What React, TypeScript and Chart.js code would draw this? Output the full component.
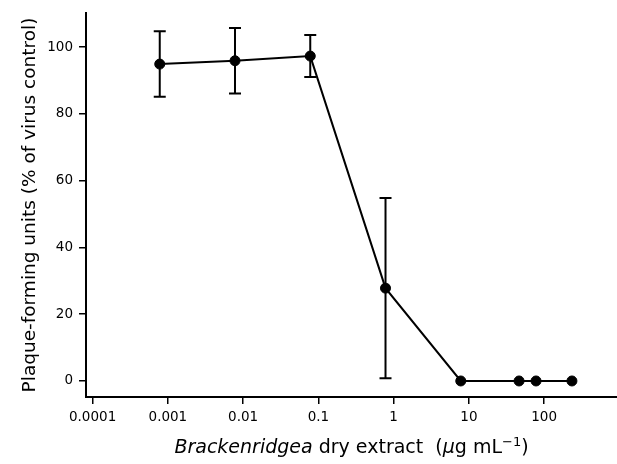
import React, { useEffect, useRef } from "react";
import { Chart, registerables } from "chart.js";

Chart.register(...registerables);

// ---- data ----
const concentrations = [0.00078, 0.0078, 0.078, 0.78, 7.8, 46.4, 78, 234];
const plaqueUnits = [94.9, 95.9, 97.3, 27.8, 0, 0, 0, 0];
const errorSD = [9.8, 9.8, 6.3, 27, 0, 0, 0, 0];
const xTickValues = [0.0001, 0.001, 0.01, 0.1, 1, 10, 100];
const xTickLabels = ["0.0001", "0.001", "0.01", "0.1", "1", "10", "100"];
const yTickValues = [0, 20, 40, 60, 80, 100];
const yTitle = "Plaque-forming units (% of virus control)";
const xTitleParts = [
  { text: "Brackenridgea", style: "italic" },
  { text: " dry extract  (", style: "normal" },
  { text: "μ", style: "italic" },
  { text: "g mL", style: "normal" },
  { text: "−1", style: "sup" },
  { text: ")", style: "normal" },
];

const FONT = "'DejaVu Sans', 'Open Sans', sans-serif";

const errorBarPlugin = {
  id: "errorBars",
  beforeDatasetsDraw(chart: any) {
    const { ctx, scales } = chart;
    const x = scales.x;
    const y = scales.y;
    ctx.save();
    ctx.strokeStyle = "#000";
    ctx.lineWidth = 2;
    concentrations.forEach((c, i) => {
      const e = errorSD[i];
      if (!e) return;
      const px = x.getPixelForValue(c);
      const top = y.getPixelForValue(plaqueUnits[i] + e);
      const bot = y.getPixelForValue(plaqueUnits[i] - e);
      ctx.beginPath();
      ctx.moveTo(px, top);
      ctx.lineTo(px, bot);
      ctx.moveTo(px - 6, top);
      ctx.lineTo(px + 6, top);
      ctx.moveTo(px - 6, bot);
      ctx.lineTo(px + 6, bot);
      ctx.stroke();
    });
    ctx.restore();
  },
};

const xTitlePlugin = {
  id: "xTitle",
  afterDraw(chart: any) {
    const { ctx, chartArea } = chart;
    const size = 19;
    const fontFor = (s: string) =>
      s === "italic"
        ? `italic ${size}px ${FONT}`
        : s === "sup"
        ? `${Math.round(size * 0.66)}px ${FONT}`
        : `${size}px ${FONT}`;
    ctx.save();
    ctx.fillStyle = "#000";
    ctx.textBaseline = "alphabetic";
    ctx.textAlign = "left";
    let total = 0;
    const widths = xTitleParts.map((p) => {
      ctx.font = fontFor(p.style);
      const w = ctx.measureText(p.text).width;
      total += w;
      return w;
    });
    let cx = (chartArea.left + chartArea.right) / 2 - total / 2;
    const baseY = 453;
    xTitleParts.forEach((p, i) => {
      ctx.font = fontFor(p.style);
      ctx.fillText(p.text, cx, p.style === "sup" ? baseY - 7 : baseY);
      cx += widths[i];
    });
    ctx.restore();
  },
};

export default function App() {
  const canvasRef = useRef<HTMLCanvasElement | null>(null);

  useEffect(() => {
    if (!canvasRef.current) return;
    const chart = new Chart(canvasRef.current, {
      type: "scatter",
      data: {
        datasets: [
          {
            data: concentrations.map((c, i) => ({ x: c, y: plaqueUnits[i] })),
            showLine: true,
            borderColor: "#000",
            borderWidth: 2,
            backgroundColor: "#000",
            pointRadius: 5,
            pointBorderWidth: 1,
            pointBackgroundColor: "#000",
            pointBorderColor: "#000",
            tension: 0,
            clip: false,
          },
        ],
      },
      options: {
        responsive: false,
        animation: false,
        layout: { autoPadding: false, padding: { top: 13, right: 0, left: 0, bottom: 0 } },
        plugins: {
          legend: { display: false },
          tooltip: { enabled: false },
        },
        scales: {
          x: {
            type: "logarithmic",
            min: 8.17e-5,
            max: 929,
            afterBuildTicks: (s: any) => {
              s.ticks = xTickValues.map((v) => ({ value: v }));
            },
            afterFit: (s: any) => {
              s.height = 67;
              s.paddingLeft = 0;
              s.paddingRight = 0;
            },
            border: { color: "#000", width: 2 },
            grid: {
              display: true,
              drawOnChartArea: false,
              drawTicks: true,
              tickLength: 7,
              color: "#000",
              lineWidth: 1.5,
            },
            ticks: {
              autoSkip: false,
              maxRotation: 0,
              color: "#000",
              padding: 5,
              font: { family: FONT, size: 13.5 },
              callback: (_v: any, i: number) => xTickLabels[i],
            },
          },
          y: {
            type: "linear",
            min: -4.8,
            max: 110.2,
            afterBuildTicks: (s: any) => {
              s.ticks = yTickValues.map((v) => ({ value: v }));
            },
            afterFit: (s: any) => {
              s.width = 86;
              s.paddingTop = 0;
              s.paddingBottom = 0;
            },
            border: { color: "#000", width: 2 },
            grid: {
              display: true,
              drawOnChartArea: false,
              drawTicks: true,
              tickLength: 7,
              color: "#000",
              lineWidth: 1.5,
            },
            ticks: {
              color: "#000",
              padding: 6,
              font: { family: FONT, size: 13.5 },
              callback: (v: any) => String(v),
            },
            title: {
              display: true,
              text: yTitle,
              color: "#000",
              font: { family: FONT, size: 18.5 },
              padding: { top: 19, bottom: 0 },
            },
          },
        },
      } as any,
      plugins: [errorBarPlugin, xTitlePlugin],
    });
    return () => chart.destroy();
  }, []);

  return (
    <div style={{ position: "fixed", left: 0, top: 0, width: 617, height: 464 }}>
      <canvas ref={canvasRef} width={617} height={464} />
    </div>
  );
}
